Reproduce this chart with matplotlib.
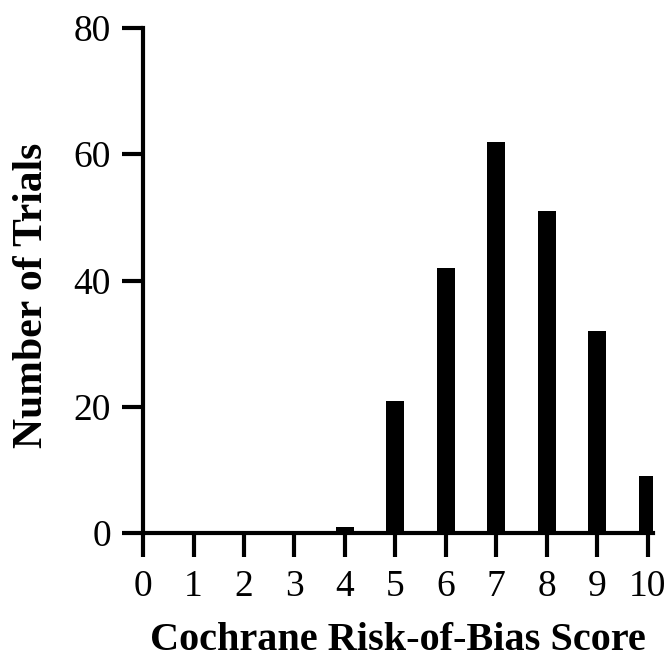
import matplotlib.pyplot as plt

scores = [0, 1, 2, 3, 4, 5, 6, 7, 8, 9, 10]
trials = [0, 0, 0, 0, 1, 21, 42, 62, 51, 32, 9]
y_ticks = [0, 20, 40, 60, 80]

plt.rcParams['font.family'] = ['Liberation Serif', 'DejaVu Serif']

fig = plt.figure(figsize=(6.69, 6.64), dpi=100)
ax = fig.add_axes([0.2138, 0.197, 0.762, 0.761])

ax.bar(scores, trials, width=0.36, color='black')

ax.set_xlim(0, 10.1)
ax.set_ylim(0, 80)
ax.set_xticks(scores)
ax.set_yticks(y_ticks)

for s in ['top', 'right']:
    ax.spines[s].set_visible(False)
for s in ['left', 'bottom']:
    ax.spines[s].set_linewidth(3)

ax.tick_params(axis='both', width=3, length=15, labelsize=27, pad=8)
ax.tick_params(axis='x', length=17, pad=9)

ax.set_ylabel('Number of Trials', fontsize=30, fontweight='bold')
ax.yaxis.set_label_coords(-0.18, 0.47)
ax.set_xlabel('Cochrane Risk-of-Bias Score', fontsize=29, fontweight='bold', labelpad=13)

fig.savefig('out.png', dpi=100)
